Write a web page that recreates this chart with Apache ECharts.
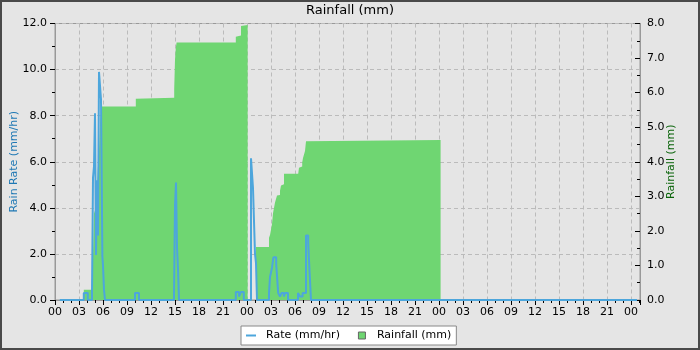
<!DOCTYPE html>
<html><head><meta charset="utf-8">
<script src="https://cdn.jsdelivr.net/npm/echarts@6/dist/echarts.min.js"></script>
<style>html,body{margin:0;padding:0;background:#e5e5e5}#c{width:700px;height:350px}</style>
</head><body><div id="c"></div>
<script>
// x tick labels (every 3 hours over 3 days)
const xTickLabels = ['00','03','06','09','12','15','18','21','00','03','06','09','12','15','18','21','00','03','06','09','12','15','18','21','00'];
// Rain rate (mm/hr): hours since start of first day, values
const rateHours = [0.6, 3.6, 4.1, 4.625, 4.75, 4.875, 5.0, 5.125, 5.25, 5.375, 5.5, 5.75, 5.85, 5.92, 6.0, 6.125, 6.25, 10.0, 10.5, 14.875, 15.0, 15.125, 15.25, 15.375, 15.5, 22.6, 23.0, 23.25, 23.6, 24.5, 24.75, 25.0, 25.125, 25.25, 26.75, 26.875, 27.125, 27.3, 27.65, 27.9, 28.125, 28.3, 28.6, 28.75, 29.125, 30.375, 30.625, 30.95, 31.375, 31.65, 31.8, 32.0, 72.75];
const rateValues = [0, 0.3, 0, 0.3, 5.3, 5.8, 8.1, 1.95, 5.2, 2.8, 9.9, 8.7, 4.9, 1.9, 1.5, 0.45, 0, 0.3, 0, 0.2, 4.1, 5.1, 2.3, 1.35, 0, 0.35, 0.15, 0.35, 0, 6.15, 4.85, 2.0, 1.6, 0, 0.3, 1.0, 1.4, 1.85, 1.55, 0.3, 0.15, 0.3, 0.15, 0.3, 0, 0.3, 0.15, 0.3, 2.8, 2.5, 1.35, 0, 0];
// Cumulative daily rainfall (mm)
const rainHours = [0.6, 3.6, 4.6, 4.75, 4.875, 5.0, 5.2, 5.35, 5.5, 5.65, 5.8, 10.1, 10.2, 14.9, 15.0, 15.1, 15.2, 22.6, 22.75, 23.25, 23.4, 24.08, 25.125, 26.75, 26.875, 27.0, 27.125, 27.25, 27.375, 27.5, 27.625, 27.75, 27.9, 28.125, 28.25, 28.5, 28.625, 30.4, 30.5, 30.625, 30.9, 31.0, 31.125, 31.25, 31.375, 31.5, 48.2, 72.75];
const rainValues = [0, 0.3, 0.5, 1.3, 2.5, 2.6, 3.0, 3.8, 4.3, 5.2, 5.6, 5.82, 5.85, 6.1, 6.95, 7.3, 7.45, 7.62, 7.65, 7.93, 7.96, 0, 1.53, 1.8, 1.88, 2.03, 2.2, 2.51, 2.55, 2.82, 2.86, 3.02, 3.04, 3.16, 3.31, 3.35, 3.65, 3.70, 3.83, 3.86, 3.98, 4.11, 4.13, 4.31, 4.59, 4.63, 0, 0];

const rateData = rateHours.map((h, i) => [h, rateValues[i]]);
const rainData = rainHours.map((h, i) => [h, rainValues[i]]);

const FONT = 'DejaVu Sans';
const chart = echarts.init(document.getElementById('c'), null, {renderer: 'canvas'});
chart.setOption({
  animation: false,
  backgroundColor: '#e5e5e5',
  textStyle: {fontFamily: FONT},
  title: {text: 'Rainfall (mm)', left: 'center', top: 4, padding: 0,
    textStyle: {fontFamily: FONT, fontSize: 13, fontWeight: 'normal', color: '#000'}},
  graphic: [{type: 'rect', shape: {x: 1, y: 1, width: 698, height: 348}, silent: true,
    style: {fill: 'none', stroke: '#4a4a4a', lineWidth: 2}}],
  grid: {left: 55, right: 60, top: 23.5, bottom: 50, outerBoundsMode: 'none', containLabel: false,
    show: true, borderColor: '#999', borderWidth: 1, backgroundColor: 'transparent'},
  legend: {left: 241, top: 326, padding: [4, 5, 4, 5], backgroundColor: '#fff', borderColor: '#888', borderWidth: 1,
    borderRadius: 0, itemWidth: 10, itemHeight: 7, itemGap: 18, symbolKeepAspect: true,
    textStyle: {fontFamily: FONT, fontSize: 11, color: '#000', padding: [0, 0, 0, 5]},
    data: [
      {name: 'Rate (mm/hr)', icon: 'path://M0,0H10V2H0Z', itemStyle: {color: '#4da6dc', borderWidth: 0}},
      {name: 'Rainfall (mm)', icon: 'path://M0,0H10V10H0Z', itemStyle: {color: '#6fd672', borderColor: '#666', borderWidth: 1}}
    ]},
  xAxis: {type: 'value', min: 0, max: 73.125, interval: 3,
    axisLine: {show: true, onZero: false, lineStyle: {color: '#999'}},
    axisTick: {show: true, length: 5, lineStyle: {color: '#000'}},
    minorTick: {show: true, splitNumber: 3, length: 3, lineStyle: {color: '#000'}},
    axisLabel: {fontFamily: FONT, fontSize: 11, color: '#000', margin: 7,
      formatter: v => { const i = Math.round(v / 3); return Math.abs(v - i * 3) < 1e-6 ? (xTickLabels[i] || '') : ''; }},
    splitLine: {show: true, lineStyle: {color: '#bbb', type: [4, 3]}}},
  yAxis: [
    {type: 'value', min: 0, max: 12, interval: 2, position: 'left',
      name: 'Rain Rate (mm/hr)', nameLocation: 'middle', nameGap: 35, nameMoveOverlap: false,
      nameTextStyle: {fontFamily: FONT, fontSize: 11, color: '#1f78b4'},
      axisLine: {show: true, lineStyle: {color: '#999'}},
      axisTick: {show: true, length: 5, lineStyle: {color: '#000'}},
      minorTick: {show: true, splitNumber: 2, length: 3, lineStyle: {color: '#000'}},
      axisLabel: {fontFamily: FONT, fontSize: 11, color: '#000', margin: 8, formatter: v => v.toFixed(1)},
      splitLine: {show: true, lineStyle: {color: '#bbb', type: [4, 3]}}},
    {type: 'value', min: 0, max: 8, interval: 1, position: 'right',
      name: 'Rainfall (mm)', nameLocation: 'middle', nameGap: 26, nameMoveOverlap: false,
      nameTextStyle: {fontFamily: FONT, fontSize: 11, color: '#0a640a'},
      axisLine: {show: true, lineStyle: {color: '#999'}},
      axisTick: {show: true, inside: true, length: 5, lineStyle: {color: '#000'}},
      minorTick: {show: true, splitNumber: 2, length: 3, lineStyle: {color: '#000'}},
      axisLabel: {fontFamily: FONT, fontSize: 11, color: '#000', margin: 7, formatter: v => v.toFixed(1)},
      splitLine: {show: false}}
  ],
  series: [
    {name: 'Rainfall (mm)', type: 'line', yAxisIndex: 1, step: 'end', data: rainData,
      showSymbol: false, symbol: 'none', color: '#6fd672',
      lineStyle: {width: 0, color: '#6fd672'}, areaStyle: {color: '#6fd672', opacity: 1}, z: 2},
    {name: 'Rate (mm/hr)', type: 'line', yAxisIndex: 0, step: 'end', data: rateData,
      showSymbol: false, symbol: 'none', color: '#4da6dc',
      lineStyle: {width: 2, color: '#4da6dc'}, z: 3}
  ]
});
</script></body></html>
